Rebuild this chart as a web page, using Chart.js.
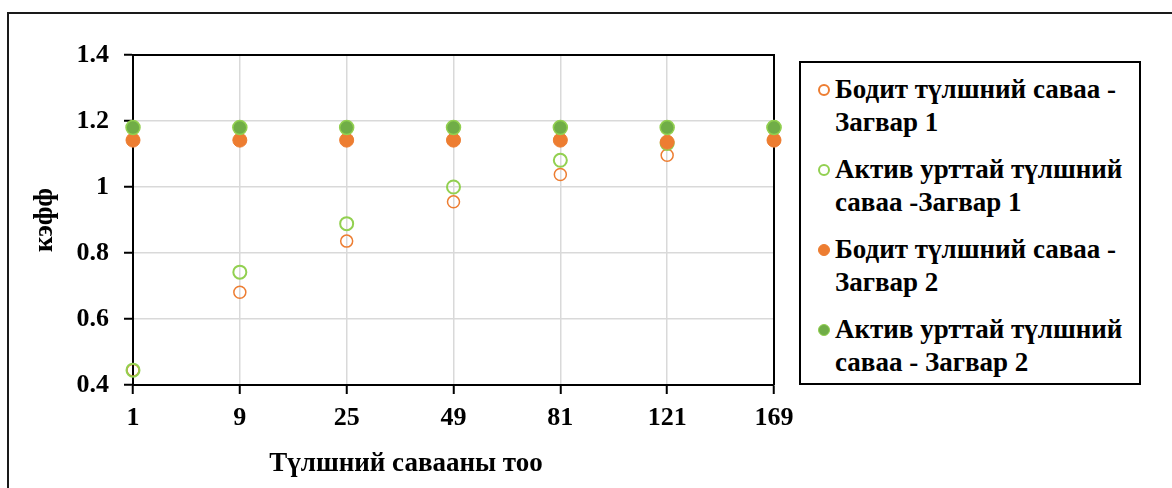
<!DOCTYPE html>
<html>
<head>
<meta charset="utf-8">
<script src="https://cdn.jsdelivr.net/npm/chart.js@4/dist/chart.umd.min.js"></script>
<style>
  html, body { margin: 0; padding: 0; background: #fff; }
  #wrap { position: relative; width: 1172px; height: 488px; overflow: hidden; font-family: "Liberation Serif", "Times New Roman", serif; font-weight: bold; color: #000; }
  #frame { position: absolute; left: 7px; top: 12px; width: 1200px; height: 500px; border-left: 2px solid #1a1a1a; border-top: 2px solid #1a1a1a; box-sizing: border-box; }
  canvas { position: absolute; left: 0; top: 0; }
  #xtitle { position: absolute; left: 406px; top: 446px; transform: translateX(-50%); font-size: 27px; line-height: 32px; white-space: nowrap; }
  #legend { position: absolute; left: 799px; top: 61px; width: 342px; height: 324px; border: 2px solid #000; box-sizing: border-box; background: #fff; }
  .item { position: absolute; left: 34px; font-size: 27px; line-height: 33px; white-space: nowrap; }
  .mk { position: absolute; left: 17px; width: 12px; height: 12px; border-radius: 50%; box-sizing: border-box; }
</style>
</head>
<body>
<div id="wrap">
  <div id="frame"></div>
  <canvas id="c" width="1172" height="488"></canvas>
  <div id="xtitle"></div>
  <div id="legend"></div>
</div>
<script>
// ---- data ----
const categories = ['1', '9', '25', '49', '81', '121', '169'];
const boditModel1 = [0.445, 0.681, 0.836, 0.955, 1.038, 1.096, 1.142];
const aktivModel1 = [0.445, 0.742, 0.889, 1.0, 1.081, 1.132, 1.18];
const boditModel2 = [1.142, 1.142, 1.142, 1.142, 1.142, 1.136, 1.142];
const aktivModel2 = [1.18, 1.18, 1.18, 1.18, 1.18, 1.18, 1.18];
const seriesNames = [
  ['Бодит түлшний саваа -', 'Загвар 1'],
  ['Актив урттай түлшний', 'саваа -Загвар 1'],
  ['Бодит түлшний саваа -', 'Загвар 2'],
  ['Актив урттай түлшний', 'саваа - Загвар 2']
];
const yTitle = 'кэфф';
const xTitle = 'Түлшний савааны тоо';
const yMin = 0.4, yMax = 1.4, yStep = 0.2;

const ORANGE = '#ED7D31';
const GREEN_L = '#92D050';
const GREEN_D = '#70AD47';
const FAMILY = '"Liberation Serif", "Times New Roman", serif';
const TICK_FONT = { family: FAMILY, weight: 'bold', size: 26 };
const TITLE_FONT = { family: FAMILY, weight: 'bold', size: 27 };

const styles = [
  { bg: 'rgba(0,0,0,0)', border: ORANGE, r: 6, bw: 1.5, order: 4 },
  { bg: 'rgba(0,0,0,0)', border: GREEN_L, r: 6.5, bw: 2, order: 3 },
  { bg: ORANGE, border: ORANGE, r: 7, bw: 1, order: 2 },
  { bg: GREEN_D, border: GREEN_L, r: 7, bw: 1.5, order: 1 }
];
const values = [boditModel1, aktivModel1, boditModel2, aktivModel2];

const frameLines = {
  id: 'frameLines',
  beforeDatasetsDraw(chart) {
    const { ctx, chartArea: a } = chart;
    ctx.save();
    ctx.strokeStyle = '#000';
    ctx.lineWidth = 2;
    ctx.beginPath();
    ctx.moveTo(a.left, a.top);
    ctx.lineTo(a.right, a.top);
    ctx.lineTo(a.right, a.bottom);
    ctx.stroke();
    ctx.restore();
  }
};

new Chart(document.getElementById('c'), {
  type: 'line',
  data: {
    labels: categories,
    datasets: values.map((v, i) => ({
      label: seriesNames[i].join(' '),
      data: v,
      showLine: false,
      pointRadius: styles[i].r,
      pointHoverRadius: styles[i].r,
      pointBackgroundColor: styles[i].bg,
      pointBorderColor: styles[i].border,
      pointBorderWidth: styles[i].bw,
      backgroundColor: styles[i].bg,
      borderColor: styles[i].border,
      order: styles[i].order,
      clip: false
    }))
  },
  options: {
    responsive: false,
    animation: false,
    events: [],
    layout: { padding: { top: 55, right: 398, left: 0, bottom: 0 } },
    plugins: { legend: { display: false }, tooltip: { enabled: false } },
    scales: {
      x: {
        type: 'category',
        offset: false,
        grid: { color: '#d9d9d9', lineWidth: 1.5, tickColor: '#000', tickLength: 9, tickWidth: 2 },
        border: { color: '#000', width: 2 },
        ticks: { color: '#000', font: TICK_FONT, padding: 9, maxRotation: 0, autoSkip: false },
        afterFit(s) { s.height = 103; }
      },
      y: {
        min: yMin, max: yMax,
        grid: { color: '#d9d9d9', lineWidth: 1.5, tickColor: '#000', tickLength: 9, tickWidth: 2 },
        border: { color: '#000', width: 2 },
        ticks: { color: '#000', font: TICK_FONT, padding: 15, stepSize: yStep,
                 callback: (v) => String(Math.round(v * 10) / 10) },
        title: { display: true, text: yTitle, color: '#000', font: TITLE_FONT, padding: { top: 29, bottom: 0 } },
        afterFit(s) { s.width = 133; }
      }
    }
  },
  plugins: [frameLines]
});

// HTML legend and x title (text taken from arrays above)
document.getElementById('xtitle').textContent = xTitle;
const legend = document.getElementById('legend');
const itemTops = [10, 90, 170, 250];
seriesNames.forEach((lines, i) => {
  const it = document.createElement('div');
  it.className = 'item';
  it.style.top = itemTops[i] + 'px';
  it.innerHTML = lines.join('<br>');
  legend.appendChild(it);
  const mk = document.createElement('div');
  mk.className = 'mk';
  mk.style.top = (itemTops[i] + 16.5 - 6) + 'px';
  mk.style.background = styles[i].bg;
  mk.style.border = (i < 2 ? 2 : 1) + 'px solid ' + styles[i].border;
  legend.appendChild(mk);
});
</script>
</body>
</html>
